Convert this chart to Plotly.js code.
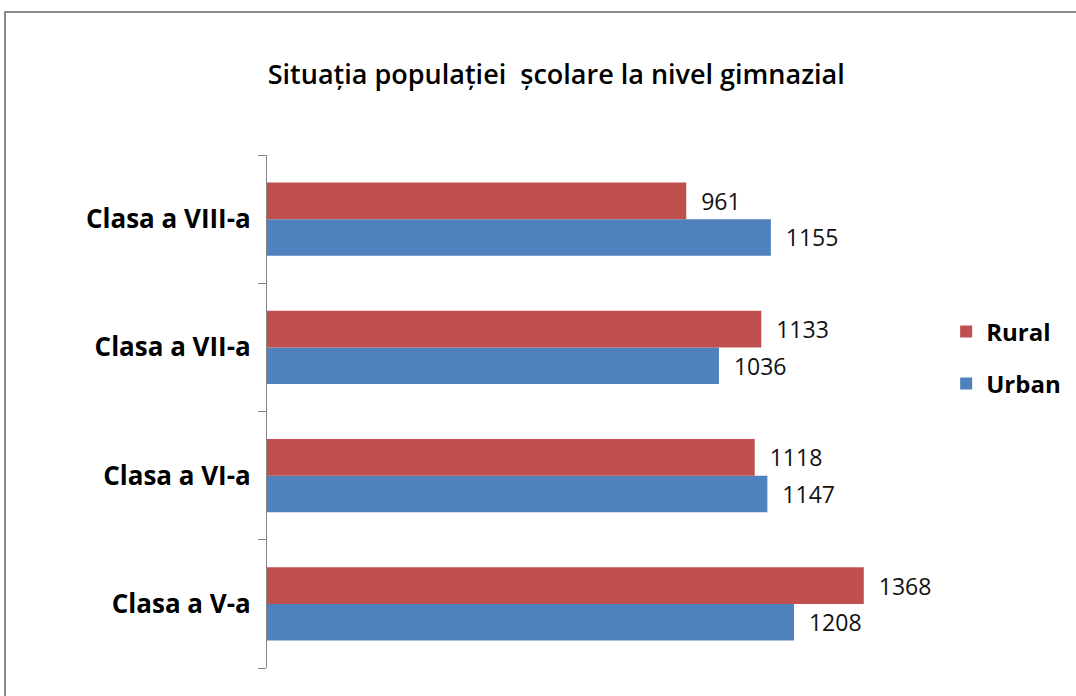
<!DOCTYPE html>
<html><head><meta charset="utf-8">
<script src="https://cdn.plot.ly/plotly-3.0.1.min.js"></script>
<style>
html,body{margin:0;padding:0;background:#fff;}
#wrap{position:relative;width:1076px;height:696px;overflow:hidden;}
#chart{position:absolute;left:0;top:0;width:1076px;height:696px;}
#frame{position:absolute;left:4px;top:11px;width:1100px;height:720px;border:2px solid #8a8a8a;pointer-events:none;}
</style></head>
<body><div id="wrap"><div id="chart"></div><div id="frame"></div></div>
<script>
const categories = ["Clasa a V-a", "Clasa a VI-a", "Clasa a VII-a", "Clasa a VIII-a"];
const urban = [1208, 1147, 1036, 1155];
const rural = [1368, 1118, 1133, 961];
const seriesNames = ["Urban", "Rural"];
const colors = {Urban: "#4F81BD", Rural: "#C0504D"};
const titleText = "Situația populației  școlare la nivel gimnazial";

const FONT = "Open Sans, Noto Sans, sans-serif";
const lblFmt = "\u00a0\u00a0%{x}";

const traces = [
  {type:"bar", orientation:"h", name:seriesNames[0], y:categories, x:urban,
   marker:{color:colors.Urban}, text:urban, texttemplate:lblFmt, textposition:"outside",
   cliponaxis:false, textfont:{family:FONT, size:23, color:"#111"}, legend:"legend2", hoverinfo:"x+name"},
  {type:"bar", orientation:"h", name:seriesNames[1], y:categories, x:rural,
   marker:{color:colors.Rural}, text:rural, texttemplate:lblFmt, textposition:"outside",
   cliponaxis:false, textfont:{family:FONT, size:23, color:"#111"}, legend:"legend", hoverinfo:"x+name"}
];

const layout = {
  width:1076, height:696,
  margin:{l:267, r:111, t:155, b:28, autoexpand:false},
  paper_bgcolor:"#fff", plot_bgcolor:"#fff",
  font:{family:FONT, color:"#000"},
  title:{text:titleText, x:0.517, xanchor:"center", y:0.893, yanchor:"middle",
         font:{family:FONT, size:27, color:"#000", weight:600}},
  barmode:"group", bargap:0.43, bargroupgap:0,
  xaxis:{range:[0,1600], showgrid:false, zeroline:false, showticklabels:false, ticks:"", showline:false, fixedrange:true},
  yaxis:{type:"category", showline:true, linecolor:"#868686", linewidth:1,
         ticks:"outside", tickson:"boundaries", ticklen:8, tickcolor:"#868686",
         ticklabelstandoff:10, showgrid:false, zeroline:false,
         tickfont:{family:FONT, size:26, color:"#000", weight:"bold"}, fixedrange:true},
  showlegend:true,
  legend:{x:0.973, xanchor:"left", y:(696-332-28)/(696-155-28), yanchor:"middle", bgcolor:"rgba(0,0,0,0)",
          font:{family:FONT, size:24, color:"#000", weight:"bold"}, itemwidth:30},
  legend2:{x:0.973, xanchor:"left", y:(696-384-28)/(696-155-28), yanchor:"middle", bgcolor:"rgba(0,0,0,0)",
          font:{family:FONT, size:24, color:"#000", weight:"bold"}, itemwidth:30}
};
Plotly.newPlot("chart", traces, layout, {displayModeBar:false, staticPlot:true});
</script></body></html>
